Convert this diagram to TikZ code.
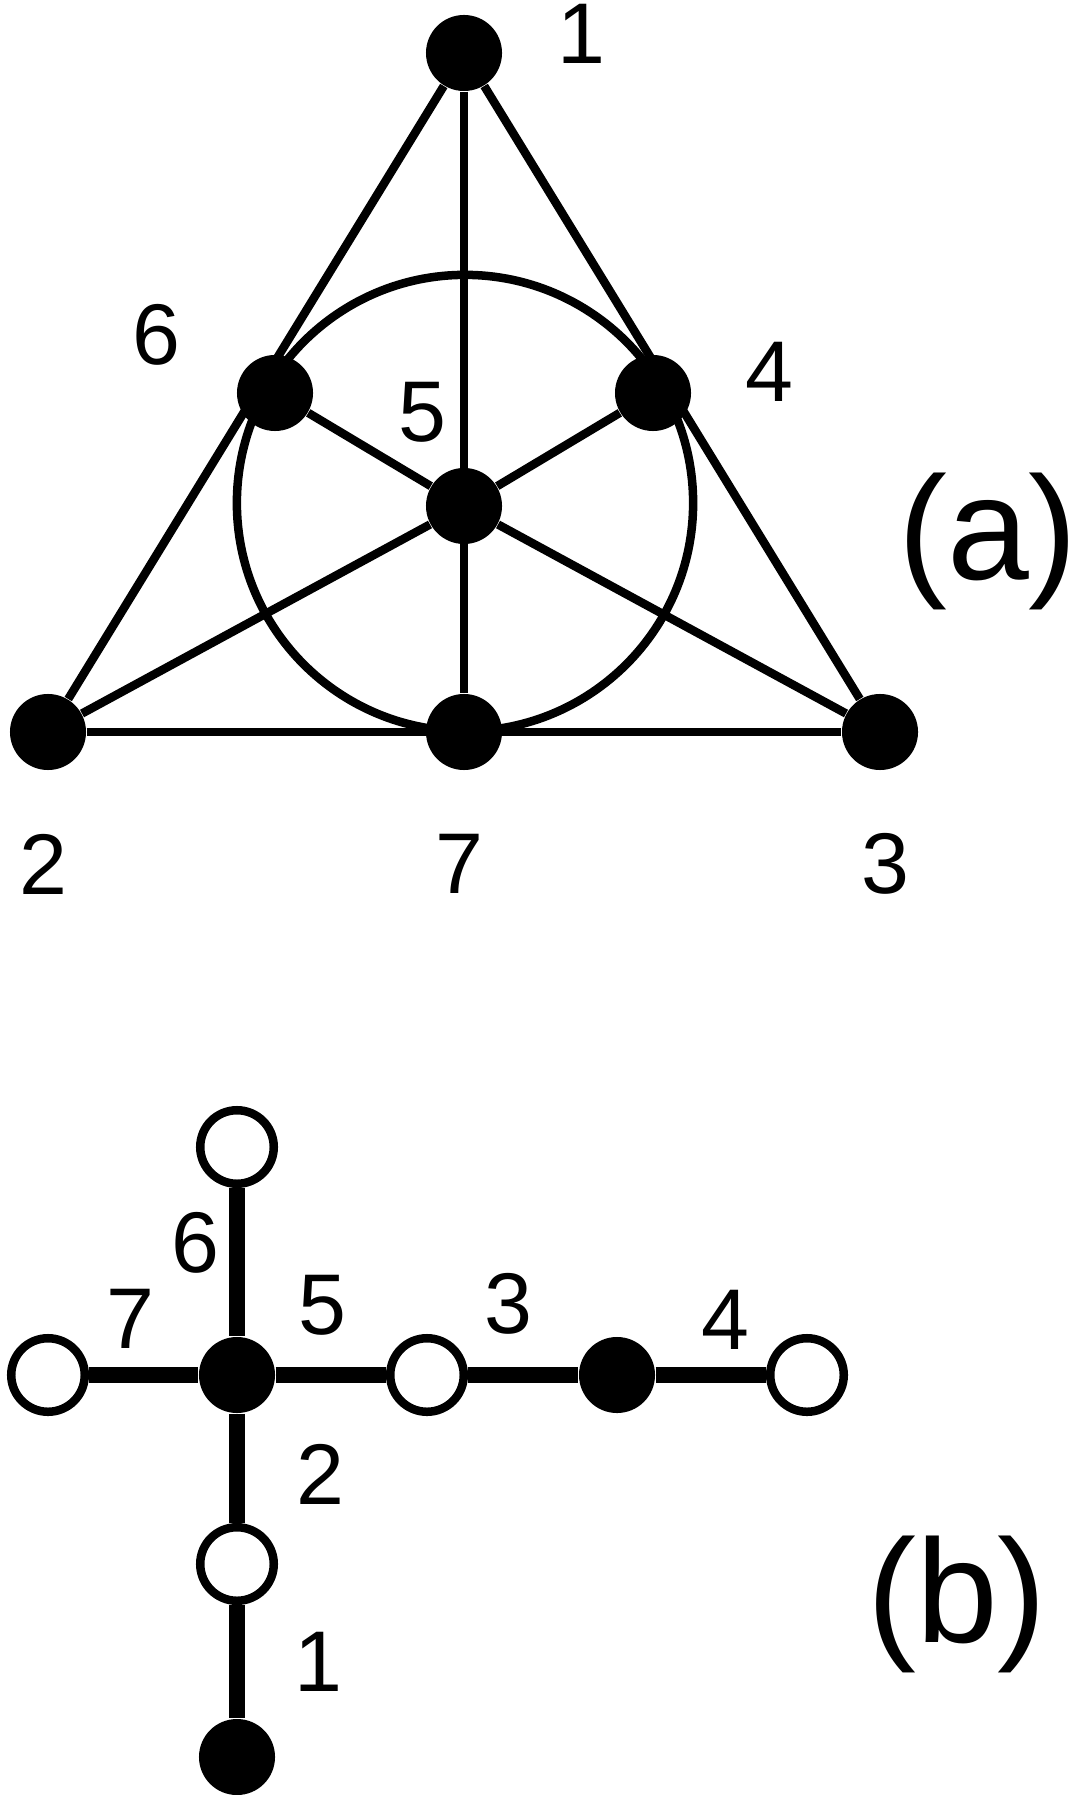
\documentclass[tikz,border=0pt]{standalone}
\usepackage{fontspec}
\setmainfont{Liberation Sans}
\pgfdeclarelayer{background}
\pgfsetlayers{background,main}
\begin{document}
\begin{tikzpicture}[x=0.01cm,y=-0.01cm,
  fillnode/.style={circle,fill=black,inner sep=0pt,minimum size=0.76cm},
  opennode/.style={circle,draw=black,fill=white,line width=0.085cm,inner sep=0pt,minimum size=0.735cm},
  lbl/.style={inner sep=0pt,font=\fontsize{24.5}{29}\selectfont},
  biglbl/.style={inner sep=0pt,font=\fontsize{41.8}{50}\selectfont},
  thinedge/.style={line width=0.085cm},
  thickedge/.style={line width=0.16cm}]
\useasboundingbox (0,0) rectangle (1075,1795);

% ---------- (a) ----------
\node[fillnode] (a1) at (464,53) {};
\node[fillnode] (a6) at (275,393) {};
\node[fillnode] (a4) at (653,393) {};
\node[fillnode] (a5) at (464,506) {};
\node[fillnode] (a2) at (48,732) {};
\node[fillnode] (a7) at (464,732) {};
\node[fillnode] (a3) at (880,732) {};

\begin{pgfonlayer}{background}
\node[circle,draw,thinedge,inner sep=0pt,minimum size=4.56cm] (ring) at (465,503) {};
\draw[thinedge] (a1) -- (a2);
\draw[thinedge] (a1) -- (a3);
\draw[thinedge] (a2) -- (a3);
\draw[thinedge] (a1) -- (a7);
\draw[thinedge] (a2) -- (a5);
\draw[thinedge] (a5) -- (a4);
\draw[thinedge] (a3) -- (a5);
\draw[thinedge] (a5) -- (a6);
\end{pgfonlayer}

\node[lbl] (la1) at (581,34) {1};
\node[lbl] (la6) at (156,335) {6};
\node[lbl] (la5) at (422,412) {5};
\node[lbl] (la4) at (769,372) {4};
\node[lbl] (la2) at (43,864) {2};
\node[lbl] (la7) at (459,864) {7};
\node[lbl] (la3) at (885,864) {3};
\node[biglbl] (capa) at (988,541) {(a)};

% ---------- (b) ----------
\node[fillnode] (b5) at (237,1375) {};
\node[opennode] (b6) at (237,1147) {};
\node[opennode] (b7) at (48,1375) {};
\node[opennode] (b3) at (427,1375) {};
\node[fillnode] (b4) at (617,1375) {};
\node[opennode] (b4r) at (807,1375) {};
\node[opennode] (b2) at (237,1564) {};
\node[fillnode] (b1) at (237,1757) {};

\begin{pgfonlayer}{background}
\draw[thickedge] (b6) -- (b5);
\draw[thickedge] (b7) -- (b5);
\draw[thickedge] (b5) -- (b3);
\draw[thickedge] (b3) -- (b4);
\draw[thickedge] (b4) -- (b4r);
\draw[thickedge] (b5) -- (b2);
\draw[thickedge] (b2) -- (b1);
\end{pgfonlayer}

\node[lbl] (lb6) at (195,1243) {6};
\node[lbl] (lb7) at (130,1319) {7};
\node[lbl] (lb5) at (322,1305) {5};
\node[lbl] (lb3) at (508,1304) {3};
\node[lbl] (lb4) at (725,1320) {4};
\node[lbl] (lb2) at (320,1474) {2};
\node[lbl] (lb1) at (318,1662) {1};
\node[biglbl] (capb) at (957,1604) {(b)};
\end{tikzpicture}
\end{document}
